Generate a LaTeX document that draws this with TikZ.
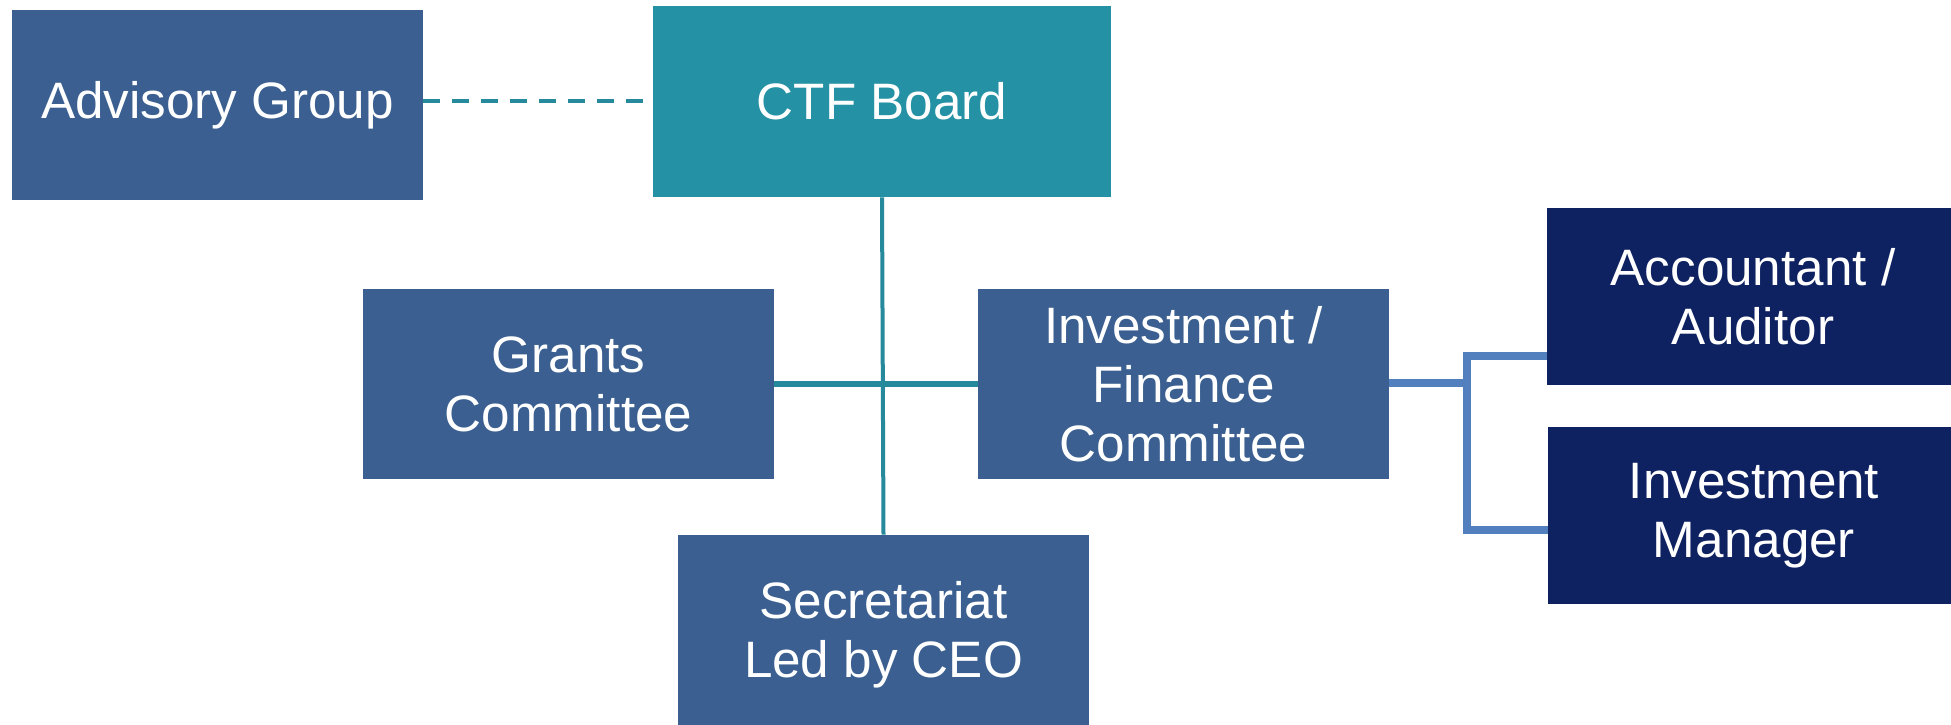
\documentclass[tikz,border=0pt]{standalone}
\usepackage{fontspec}
\setmainfont{Liberation Sans}
\definecolor{steelbox}{RGB}{58,95,144}
\definecolor{tealbox}{RGB}{37,145,164}
\definecolor{navybox}{RGB}{14,33,96}
\definecolor{tealline}{RGB}{38,138,156}
\definecolor{blueline}{RGB}{82,128,190}
\begin{document}
\begin{tikzpicture}[x=0.5pt,y=-0.5pt,
  basebox/.style={rectangle, inner sep=0pt, text=white, align=center,
    font=\fontsize{25.6}{29.5}\selectfont},
  steelnode/.style={basebox, fill=steelbox, minimum width=205.5pt, minimum height=95pt},
  tealnode/.style={basebox, fill=tealbox, minimum width=229pt, minimum height=95.5pt},
  navynode/.style={basebox, fill=navybox, minimum width=206pt, minimum height=88.5pt},
  dashlink/.style={draw=tealline, line width=2pt, dash pattern=on 8.5pt off 6pt},
  thinlink/.style={draw=tealline, line width=2pt},
  thicklink/.style={draw=tealline, line width=3.3pt},
  bracketlink/.style={draw=blueline, line width=3.8pt}]
\useasboundingbox (0,0) rectangle (1951,724);
\fill[white] (0,0) rectangle (1951,724);

\node[steelnode] (adv) at (217.5,105) {Advisory Group};
\node[tealnode] (ctf) at (882,101.5) {CTF Board};
\node[steelnode] (grants) at (568.5,384) {Grants\\Committee};
\node[steelnode] (invest) at (1183.5,384) {Investment /\\Finance\\Committee};
\node[steelnode, minimum height=100pt] (sec) at (883.5,635) {Secretariat\\Led by CEO};
\node[navynode] (acc) at (1753,296.5) {Accountant /\\Auditor};
\node[navynode] (im) at (1754,515.5) {Investment\\Manager};

\coordinate (dashend) at (ctf.west |- 0,101);
\draw[dashlink] (adv.east |- 0,101) -- (dashend);
\draw[thinlink] (ctf.south) -- (sec.north);
\draw[thicklink] (grants.east) -- (invest.west);

\coordinate (fork) at (1467,383);
\coordinate (forktop) at (1467,356);
\coordinate (forkbot) at (1467,530);
\begin{scope}[shift={(2,4)}]
  \draw[gray!30, line width=3.8pt] (invest.east |- fork) -- (fork);
  \draw[gray!30, line width=3.8pt] (acc.west |- forktop) -- (forktop) -- (forkbot) -- (im.west |- forkbot);
\end{scope}
\draw[bracketlink] (invest.east |- fork) -- (fork);
\draw[bracketlink] (acc.west |- forktop) -- (forktop) -- (forkbot) -- (im.west |- forkbot);
\end{tikzpicture}
\end{document}
